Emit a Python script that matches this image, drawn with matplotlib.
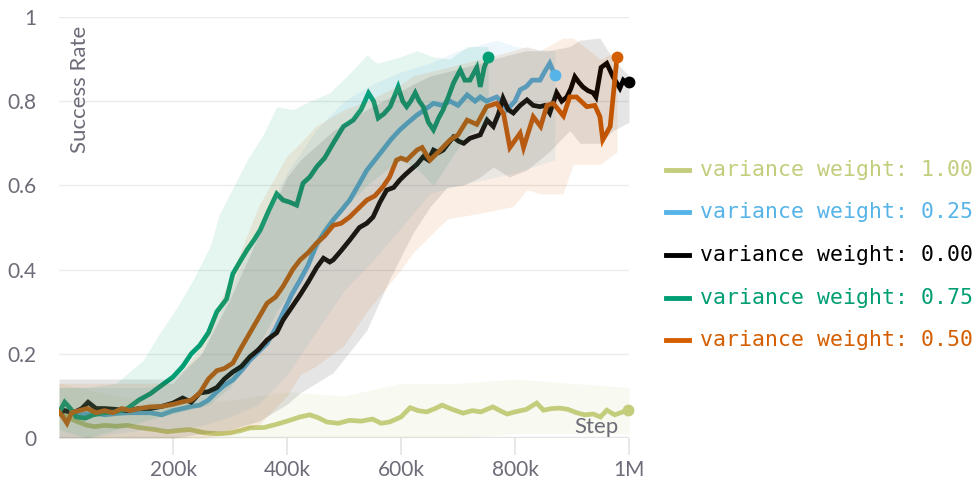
import numpy as np
import matplotlib
matplotlib.use("Agg")
import matplotlib.pyplot as plt
from matplotlib.lines import Line2D

# series: (step in k, success rate)
olive_pts = [(0, 0.06), (15, 0.05), (30, 0.04), (50, 0.03), (63, 0.027), (80, 0.03), (100, 0.028),
             (120, 0.03), (140, 0.025), (168, 0.02), (190, 0.015), (210, 0.018), (230, 0.02),
             (256, 0.012), (280, 0.01), (300, 0.012), (320, 0.018), (335, 0.024), (360, 0.025),
             (380, 0.032), (400, 0.04), (423, 0.05), (440, 0.055), (455, 0.048), (470, 0.038),
             (490, 0.035), (510, 0.042), (530, 0.04), (550, 0.045), (565, 0.035), (580, 0.038),
             (600, 0.05), (616, 0.072), (630, 0.065), (645, 0.062), (660, 0.07), (672, 0.078),
             (690, 0.068), (709, 0.059), (725, 0.065), (740, 0.062), (761, 0.074), (775, 0.064),
             (786, 0.057), (800, 0.062), (820, 0.068), (838, 0.083), (850, 0.066), (865, 0.07),
             (879, 0.071), (893, 0.068), (908, 0.06), (922, 0.055), (937, 0.057), (950, 0.05),
             (961, 0.066), (975, 0.055), (985, 0.06), (998, 0.066)]

blue_pts = [(0, 0.06), (10, 0.065), (25, 0.06), (40, 0.055), (60, 0.06), (80, 0.055), (100, 0.058),
            (120, 0.06), (140, 0.06), (160, 0.06), (180, 0.055), (200, 0.065), (217, 0.07),
            (232, 0.075), (247, 0.078), (262, 0.09), (277, 0.11), (290, 0.125), (305, 0.138),
            (320, 0.16), (335, 0.185), (350, 0.205), (365, 0.225), (380, 0.26), (393, 0.297),
            (408, 0.34), (423, 0.375), (437, 0.41), (452, 0.46), (466, 0.49), (481, 0.518),
            (495, 0.54), (510, 0.565), (525, 0.6), (540, 0.636), (554, 0.66), (568, 0.684),
            (583, 0.71), (598, 0.732), (613, 0.75), (628, 0.767), (642, 0.78), (657, 0.795),
            (672, 0.79), (686, 0.8), (700, 0.79), (716, 0.815), (730, 0.8), (739, 0.81),
            (750, 0.8), (768, 0.81), (779, 0.795), (786, 0.78), (800, 0.8), (809, 0.827),
            (820, 0.835), (830, 0.85), (844, 0.85), (852, 0.87), (861, 0.89), (870, 0.862)]

black_pts = [(0, 0.06), (10, 0.065), (25, 0.06), (40, 0.07), (51, 0.085), (65, 0.07), (80, 0.07),
             (100, 0.068), (120, 0.065), (140, 0.07), (160, 0.07), (180, 0.075), (200, 0.083),
             (217, 0.095), (232, 0.085), (247, 0.107), (262, 0.11), (277, 0.12), (290, 0.14),
             (305, 0.157), (320, 0.17), (335, 0.193), (350, 0.21), (365, 0.233), (382, 0.25),
             (393, 0.28), (408, 0.31), (423, 0.34), (437, 0.37), (452, 0.405), (464, 0.427),
             (475, 0.418), (481, 0.423), (495, 0.445), (510, 0.47), (527, 0.5), (540, 0.51),
             (551, 0.525), (563, 0.56), (575, 0.589), (587, 0.595), (598, 0.613), (607, 0.625),
             (616, 0.636), (628, 0.65), (639, 0.668), (648, 0.66), (657, 0.684), (666, 0.678),
             (674, 0.684), (683, 0.7), (692, 0.715), (701, 0.705), (710, 0.7), (721, 0.712),
             (739, 0.72), (751, 0.755), (762, 0.74), (771, 0.77), (779, 0.807), (788, 0.78),
             (797, 0.772), (809, 0.79), (821, 0.803), (832, 0.79), (844, 0.787), (852, 0.79),
             (861, 0.772), (873, 0.82), (882, 0.8), (891, 0.81), (898, 0.83), (905, 0.858),
             (912, 0.845), (919, 0.834), (928, 0.825), (937, 0.82), (942, 0.81), (951, 0.88),
             (961, 0.89), (972, 0.858), (984, 0.831), (990, 0.85), (996, 0.843), (1000, 0.845)]

green_pts = [(0, 0.06), (10, 0.085), (20, 0.07), (30, 0.05), (46, 0.047), (60, 0.055), (80, 0.06),
             (100, 0.062), (120, 0.07), (140, 0.09), (160, 0.105), (180, 0.125), (200, 0.145),
             (217, 0.17), (232, 0.2), (247, 0.22), (262, 0.25), (277, 0.3), (294, 0.33),
             (305, 0.39), (318, 0.42), (330, 0.447), (342, 0.47), (353, 0.494), (368, 0.54),
             (382, 0.58), (393, 0.565), (405, 0.56), (417, 0.553), (428, 0.605), (440, 0.62),
             (452, 0.644), (466, 0.665), (481, 0.7), (499, 0.74), (516, 0.755), (530, 0.78),
             (543, 0.819), (552, 0.8), (560, 0.76), (570, 0.77), (581, 0.787), (595, 0.834),
             (603, 0.8), (610, 0.787), (617, 0.8), (625, 0.82), (632, 0.8), (639, 0.787),
             (648, 0.75), (657, 0.732), (666, 0.76), (674, 0.78), (683, 0.81), (692, 0.843),
             (704, 0.874), (712, 0.85), (721, 0.85), (733, 0.88), (739, 0.834), (746, 0.88),
             (753, 0.905)]

orange_pts = [(0, 0.062), (7, 0.05), (14, 0.035), (22, 0.06), (35, 0.065), (50, 0.07), (65, 0.06),
              (80, 0.065), (95, 0.06), (110, 0.07), (125, 0.065), (140, 0.07), (160, 0.074),
              (180, 0.075), (200, 0.08), (217, 0.086), (232, 0.09), (247, 0.107), (262, 0.14),
              (277, 0.16), (290, 0.165), (305, 0.178), (320, 0.215), (335, 0.25), (350, 0.285),
              (365, 0.32), (380, 0.335), (393, 0.36), (410, 0.4), (423, 0.423), (437, 0.44),
              (452, 0.463), (466, 0.48), (481, 0.505), (495, 0.51), (510, 0.525), (525, 0.545),
              (540, 0.565), (554, 0.575), (568, 0.596), (580, 0.62), (592, 0.66), (600, 0.665),
              (610, 0.66), (619, 0.672), (628, 0.684), (637, 0.69), (645, 0.672), (651, 0.66),
              (666, 0.68), (686, 0.708), (700, 0.72), (716, 0.755), (733, 0.745), (750, 0.787),
              (768, 0.795), (780, 0.77), (791, 0.69), (809, 0.724), (815, 0.69), (832, 0.763),
              (845, 0.74), (856, 0.79), (867, 0.795), (885, 0.765), (896, 0.81), (908, 0.81),
              (926, 0.787), (940, 0.79), (949, 0.763), (954, 0.708), (967, 0.74), (979, 0.905)]

# shaded ranges: (step in k, low, high)
olive_band = [(0, 0.0, 0.13), (100, 0.0, 0.1), (200, -0.01, 0.08), (300, -0.01, 0.09),
              (400, 0.0, 0.11), (500, 0.0, 0.1), (600, 0.0, 0.13), (700, 0.0, 0.13),
              (800, 0.01, 0.14), (900, 0.01, 0.13), (1000, 0.01, 0.12)]
blue_band = [(0, 0.0, 0.12), (50, 0.0, 0.12), (100, 0.01, 0.12), (150, 0.02, 0.12), (200, 0.02, 0.13),
             (250, 0.03, 0.2), (300, 0.05, 0.35), (350, 0.08, 0.5), (400, 0.15, 0.63),
             (450, 0.25, 0.73), (500, 0.35, 0.8), (550, 0.42, 0.84), (600, 0.5, 0.87),
             (650, 0.58, 0.89), (700, 0.6, 0.92), (768, 0.62, 0.945), (800, 0.63, 0.93),
             (867, 0.66, 0.92), (870, 0.66, 0.92)]
black_band = [(0, 0.0, 0.14), (100, 0.0, 0.14), (200, 0.0, 0.14), (250, 0.01, 0.2), (300, 0.02, 0.33),
              (350, 0.04, 0.48), (400, 0.08, 0.62), (423, 0.107, 0.66), (481, 0.155, 0.73),
              (540, 0.256, 0.78), (581, 0.38, 0.81), (621, 0.487, 0.84), (651, 0.549, 0.86),
              (681, 0.596, 0.87), (709, 0.6, 0.88), (739, 0.62, 0.89), (762, 0.644, 0.9),
              (790, 0.62, 0.91), (820, 0.636, 0.92), (860, 0.68, 0.92), (896, 0.73, 0.93),
              (914, 0.7, 0.945), (949, 0.7, 0.95), (972, 0.73, 0.9), (1000, 0.75, 0.86)]
green_band = [(0, 0.02, 0.12), (50, 0.0, 0.12), (100, 0.02, 0.13), (148, 0.04, 0.185),
              (177, 0.05, 0.25), (207, 0.06, 0.31), (235, 0.07, 0.375), (265, 0.08, 0.455),
              (282, 0.1, 0.534), (300, 0.12, 0.58), (330, 0.18, 0.66), (358, 0.24, 0.72),
              (382, 0.3, 0.787), (411, 0.36, 0.78), (440, 0.42, 0.8), (475, 0.5, 0.82),
              (510, 0.56, 0.866), (540, 0.6, 0.91), (558, 0.62, 0.89), (598, 0.66, 0.905),
              (628, 0.64, 0.92), (657, 0.6, 0.905), (686, 0.66, 0.9), (716, 0.72, 0.93),
              (753, 0.75, 0.93)]
orange_band = [(0, 0.0, 0.13), (100, 0.0, 0.13), (200, 0.0, 0.13), (250, 0.0, 0.22), (300, 0.01, 0.38),
               (350, 0.03, 0.55), (400, 0.1, 0.67), (423, 0.15, 0.7), (450, 0.17, 0.74),
               (500, 0.22, 0.78), (540, 0.3, 0.8), (600, 0.4, 0.84), (621, 0.44, 0.86),
               (681, 0.52, 0.88), (739, 0.534, 0.9), (797, 0.55, 0.92), (821, 0.59, 0.93),
               (844, 0.58, 0.92), (884, 0.58, 0.95), (902, 0.65, 0.95), (950, 0.65, 0.9),
               (979, 0.68, 0.92)]

labels = ["variance weight: 1.00", "variance weight: 0.25", "variance weight: 0.00",
          "variance weight: 0.75", "variance weight: 0.50"]
colors = ["#c3cd7c", "#56b4e9", "#000000", "#009e73", "#d55e00"]
series = [olive_pts, blue_pts, black_pts, green_pts, orange_pts]
bands = [olive_band, blue_band, black_band, green_band, orange_band]

fig = plt.figure(figsize=(9.8, 4.88), dpi=100)
ax = fig.add_axes([59 / 980, 50 / 488, 570 / 980, 421 / 488])
grey = "#6c6c78"

for pts, band, c in zip(series, bands, colors):
    s, v = np.array(pts).T
    ax.plot(s * 1000, v, color=c, lw=3.4, zorder=2, solid_joinstyle="miter")
    ax.plot(s[-1] * 1000, v[-1], "o", color=c, ms=7.5, zorder=5, clip_on=False)
    bs, lo, hi = np.array(band).T
    ax.fill_between(bs * 1000, lo, hi, color=c, alpha=0.1, lw=0, zorder=3)

ax.set_xlim(0, 1e6)
ax.set_ylim(0, 1)
for sp in ax.spines.values():
    sp.set_visible(False)
for yv in [0.2, 0.4, 0.6, 0.8, 1.0]:
    ax.axhline(yv, color="#ebebeb", lw=1, zorder=0)
ax.axhline(0, color="#e4e4e4", lw=2.5, zorder=1)

ax.set_xticks([2e5, 4e5, 6e5, 8e5, 1e6])
ax.set_xticklabels(["200k", "400k", "600k", "800k", "1M"])
ax.set_yticks([0, 0.2, 0.4, 0.6, 0.8, 1.0])
ax.set_yticklabels(["0", "0.2", "0.4", "0.6", "0.8", "1"])
ax.tick_params(axis="x", length=12, width=1.2, color="#e4e4e4", pad=4,
               labelsize=15, labelcolor=grey)
ax.tick_params(axis="y", length=0, pad=16, labelsize=15, labelcolor=grey)
for t in ax.get_xticklabels() + ax.get_yticklabels():
    t.set_family("Lato")

ax.text(0.037, 0.98, "Success Rate", rotation=90, ha="center", va="top",
        transform=ax.transAxes, fontsize=16, color=grey, family="Lato")
ax.text(0.981, 0.003, "Step", ha="right", va="bottom",
        transform=ax.transAxes, fontsize=16, color=grey, family="Lato")

# legend
rows = [170, 212, 255, 298, 340]
for yp, c, lab in zip(rows, colors, labels):
    yf = 1 - yp / 488
    fig.add_artist(Line2D([666 / 980, 689 / 980], [yf, yf], color=c, lw=3.5,
                          transform=fig.transFigure))
    fig.text(700 / 980, yf, lab, color=c, fontsize=15.5, va="center", ha="left",
             family="DejaVu Sans Mono")

fig.savefig("out.png", dpi=100)
